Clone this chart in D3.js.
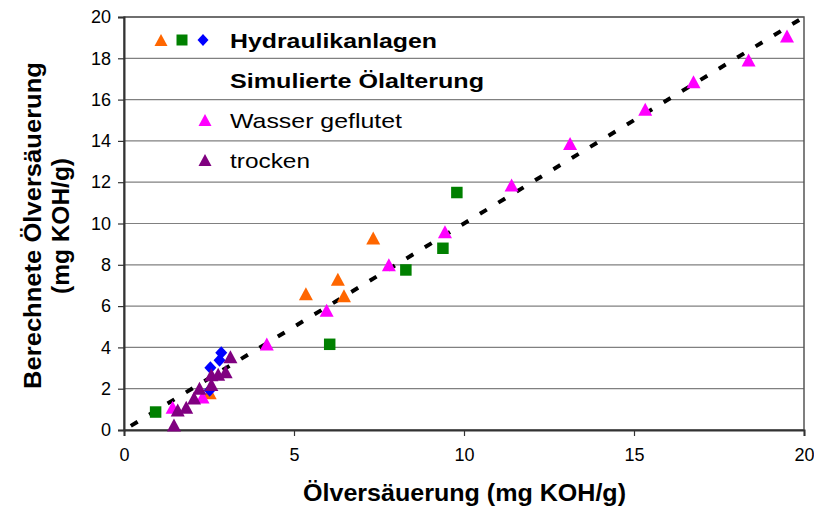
<!DOCTYPE html>
<html lang="de">
<head>
<meta charset="UTF-8">
<title>Ölversäuerung</title>
<style>
  body { margin: 0; background: #fff; }
  text { font-family: "Liberation Sans", Arial, sans-serif; }
</style>
</head>
<body>
<div id="chart"></div>
<script src="https://d3js.org/d3.v7.min.js"></script>
<script>
// Hydraulikanlagen (three marker types)
const anlagenDreieck = [[5.35, 6.6], [6.29, 7.3], [6.47, 6.5], [7.33, 9.3], [2.52, 1.8]];
const anlagenQuadrat = [[0.93, 0.87], [6.05, 4.15], [8.29, 7.75], [9.38, 8.8], [9.79, 11.5]];
const anlagenRaute = [[2.86, 3.74], [2.81, 3.38], [2.54, 3.02], [2.52, 1.93]];
// Simulierte Ölalterung
const wasserGeflutet = [[1.43, 1.1], [2.31, 1.6], [4.2, 4.16], [5.96, 5.8], [7.79, 8.0], [9.44, 9.6],
  [11.4, 11.86], [13.12, 13.88], [15.33, 15.53], [16.75, 16.87], [18.37, 17.92], [19.5, 19.08]];
const trocken = [[1.47, 0.24], [1.58, 0.97], [1.83, 1.1], [2.06, 1.55], [2.22, 2.02], [2.57, 2.2],
  [2.57, 2.68], [2.77, 2.7], [2.99, 2.82], [3.13, 3.55]];
const xTicks = [0, 5, 10, 15, 20];
const yTicks = [0, 2, 4, 6, 8, 10, 12, 14, 16, 18, 20];

const W = 814, H = 507;
const margin = { top: 17, right: 10, bottom: 77, left: 124 };
const width = W - margin.left - margin.right,
  height = H - margin.top - margin.bottom;

const svg = d3.select("#chart").append("svg")
  .attr("width", W).attr("height", H);
const g = svg.append("g")
  .attr("transform", `translate(${margin.left},${margin.top})`);

const x = d3.scaleLinear().domain([0, 20]).range([0, width]);
const y = d3.scaleLinear().domain([0, 20]).range([height, 0]);

// gridlines
g.append("g")
  .selectAll("line")
  .data(yTicks.slice(1))
  .join("line")
  .attr("x1", 0).attr("x2", width)
  .attr("y1", d => y(d)).attr("y2", d => y(d))
  .attr("stroke", "#808080").attr("stroke-width", 1.2);

// plot border
g.append("rect")
  .attr("width", width).attr("height", height)
  .attr("fill", "none").attr("stroke", "#555").attr("stroke-width", 1.5);

// axes
const xAxis = g.append("g")
  .attr("transform", `translate(0,${height})`)
  .call(d3.axisBottom(x).tickValues(xTicks).tickSize(6).tickPadding(12).tickFormat(d3.format("d")));
const yAxis = g.append("g")
  .call(d3.axisLeft(y).tickValues(yTicks).tickSize(6).tickPadding(7).tickFormat(d3.format("d")));
[xAxis, yAxis].forEach(a => {
  a.select(".domain").attr("stroke", "#333").attr("stroke-width", 2);
  a.selectAll(".tick line").attr("stroke", "#333").attr("stroke-width", 1.2);
  a.selectAll(".tick text")
    .attr("font-family", "Liberation Sans, Arial, sans-serif")
    .attr("font-size", 18).attr("fill", "#000");
});

// diagonal y = x
g.append("line")
  .attr("x1", x(0.2)).attr("y1", y(0.2))
  .attr("x2", x(20)).attr("y2", y(20))
  .attr("stroke", "#000").attr("stroke-width", 4)
  .attr("stroke-dasharray", "8,13.5");

// marker shapes (Excel style, centred on bounding box)
const tri = (w, h) => `M0,${-h / 2}L${w / 2},${h / 2}L${-w / 2},${h / 2}Z`;
const sq = s => `M${-s / 2},${-s / 2}h${s}v${s}h${-s}Z`;
const dia = (w, h) => `M0,${-h / 2}L${w / 2},0L0,${h / 2}L${-w / 2},0Z`;

function drawSeries(data, shape, color) {
  g.append("g")
    .selectAll("path")
    .data(data)
    .join("path")
    .attr("d", shape)
    .attr("fill", color)
    .attr("transform", d => `translate(${x(d[0])},${y(d[1])})`);
}

drawSeries(anlagenDreieck, tri(14, 13), "#FF6600");
drawSeries(anlagenQuadrat, sq(11.5), "#008000");
drawSeries(anlagenRaute, dia(12, 13), "#0000FF");
drawSeries(wasserGeflutet, tri(14, 13), "#FF00FF");
drawSeries(trocken, tri(14, 13), "#800080");

// legend
const leg = svg.append("g");
const legMarks = [
  { d: tri(13, 12), c: "#FF6600", x: 161, y: 40 },
  { d: sq(11), c: "#008000", x: 182, y: 40 },
  { d: dia(11, 12), c: "#0000FF", x: 203, y: 40 },
  { d: tri(13, 12), c: "#FF00FF", x: 205, y: 120 },
  { d: tri(13, 12), c: "#800080", x: 205, y: 160 }
];
leg.selectAll("path")
  .data(legMarks)
  .join("path")
  .attr("d", d => d.d)
  .attr("fill", d => d.c)
  .attr("transform", d => `translate(${d.x},${d.y})`);

const legItems = [
  { t: "Hydraulikanlagen", y: 48, b: true, len: 207 },
  { t: "Simulierte Ölalterung", y: 88, b: true, len: 254 },
  { t: "Wasser geflutet", y: 128, b: false, len: 172 },
  { t: "trocken", y: 168, b: false, len: 80 }
];
leg.selectAll("text.leg")
  .data(legItems)
  .join("text")
  .attr("class", "leg")
  .attr("x", 230).attr("y", d => d.y)
  .attr("font-size", 21)
  .attr("font-weight", d => d.b ? "bold" : "normal")
  .attr("textLength", d => d.len)
  .attr("lengthAdjust", "spacingAndGlyphs")
  .text(d => d.t);

// axis titles
svg.append("text")
  .attr("x", 303).attr("y", 501)
  .attr("font-size", 23).attr("font-weight", "bold")
  .attr("textLength", 323).attr("lengthAdjust", "spacingAndGlyphs")
  .text("Ölversäuerung (mg KOH/g)");

const yt = svg.append("g").attr("transform", "translate(0,226) rotate(-90)");
yt.append("text")
  .attr("x", -163).attr("y", 41)
  .attr("font-size", 23).attr("font-weight", "bold")
  .attr("textLength", 327).attr("lengthAdjust", "spacingAndGlyphs")
  .text("Berechnete Ölversäuerung");
yt.append("text")
  .attr("x", -68).attr("y", 69)
  .attr("font-size", 23).attr("font-weight", "bold")
  .attr("textLength", 136).attr("lengthAdjust", "spacingAndGlyphs")
  .text("(mg KOH/g)");
</script>
</body>
</html>
